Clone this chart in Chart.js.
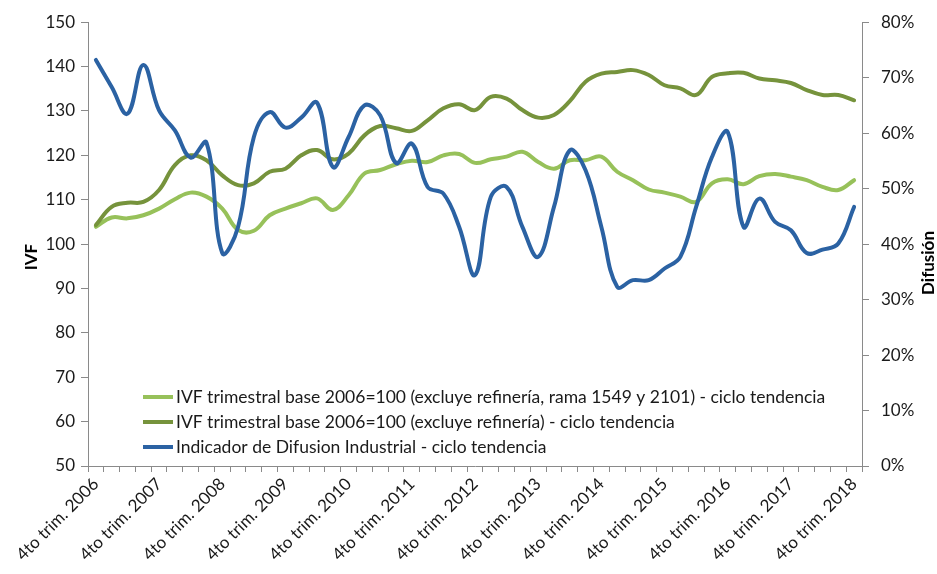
<!DOCTYPE html>
<html>
<head>
<meta charset="utf-8">
<script src="https://cdn.jsdelivr.net/npm/chart.js@4.4.1/dist/chart.umd.min.js"></script>
<style>
  html, body { margin: 0; padding: 0; background: #ffffff; }
  #wrap { width: 937px; height: 574px; position: relative; }
</style>
</head>
<body>
<div id="wrap"><canvas id="c" width="937" height="574"></canvas></div>
<script>
const categories = [
  '4to trim. 2006',
  '1er trim. 2007','2do trim. 2007','3er trim. 2007','4to trim. 2007',
  '1er trim. 2008','2do trim. 2008','3er trim. 2008','4to trim. 2008',
  '1er trim. 2009','2do trim. 2009','3er trim. 2009','4to trim. 2009',
  '1er trim. 2010','2do trim. 2010','3er trim. 2010','4to trim. 2010',
  '1er trim. 2011','2do trim. 2011','3er trim. 2011','4to trim. 2011',
  '1er trim. 2012','2do trim. 2012','3er trim. 2012','4to trim. 2012',
  '1er trim. 2013','2do trim. 2013','3er trim. 2013','4to trim. 2013',
  '1er trim. 2014','2do trim. 2014','3er trim. 2014','4to trim. 2014',
  '1er trim. 2015','2do trim. 2015','3er trim. 2015','4to trim. 2015',
  '1er trim. 2016','2do trim. 2016','3er trim. 2016','4to trim. 2016',
  '1er trim. 2017','2do trim. 2017','3er trim. 2017','4to trim. 2017',
  '1er trim. 2018','2do trim. 2018','3er trim. 2018','4to trim. 2018'
];

const tickLabels = [
  '4to trim. 2006','4to trim. 2007','4to trim. 2008','4to trim. 2009',
  '4to trim. 2010','4to trim. 2011','4to trim. 2012','4to trim. 2013',
  '4to trim. 2014','4to trim. 2015','4to trim. 2016','4to trim. 2017',
  '4to trim. 2018'
];

const ivfSinRamas = [
  103.9, 106.0, 105.8, 106.5, 108.0, 110.1, 111.6, 110.7, 108.0, 103.2,
  103.0, 106.5, 108.0, 109.2, 110.3, 107.7, 111.0, 115.9, 116.7, 118.0,
  118.8, 118.5, 120.0, 120.3, 118.3, 119.1, 119.7, 120.8, 118.5, 117.0,
  118.9, 118.9, 119.7, 116.3, 114.4, 112.3, 111.6, 110.7, 109.5, 113.7,
  114.6, 113.5, 115.3, 115.8, 115.2, 114.4, 112.9, 112.2, 114.4
];

const ivfSinRefineria = [
  104.3, 108.4, 109.3, 109.5, 112.2, 117.8, 120.0, 118.9, 115.5, 113.3,
  113.7, 116.3, 117.0, 120.0, 121.2, 119.1, 120.4, 124.5, 126.6, 126.1,
  125.5, 127.9, 130.6, 131.5, 130.2, 133.2, 132.8, 130.2, 128.5, 129.1,
  132.2, 136.6, 138.4, 138.8, 139.2, 138.1, 135.8, 135.1, 133.6, 137.7,
  138.5, 138.6, 137.3, 136.9, 136.3, 134.7, 133.6, 133.6, 132.4
];

const difusion = [
  73.2, 68.3, 63.5, 72.3, 64.1, 60.5, 55.6, 58.3, 38.4, 43.1,
  59.3, 63.8, 61.0, 62.8, 65.5, 53.9, 59.3, 65.0, 63.2, 54.6,
  58.1, 50.3, 49.1, 43.1, 34.4, 48.5, 50.3, 43.1, 37.7, 46.7,
  56.9, 53.3, 43.1, 32.3, 33.5, 33.5, 35.6, 37.7, 46.7, 55.7,
  60.2, 43.1, 48.2, 44.0, 42.5, 38.4, 39.0, 40.1, 46.7
];

const seriesNames = [
  'IVF trimestral base 2006=100 (excluye refinería, rama 1549 y 2101) - ciclo tendencia',
  'IVF trimestral base 2006=100 (excluye refinería) - ciclo tendencia',
  'Indicador de Difusion Industrial - ciclo tendencia'
];
const seriesColors = ['#97C15A', '#76933C', '#2B62A3'];

const FONT = 'Lato';
const AXIS_COLOR = '#8a8a8a';
const TEXT_COLOR = '#1a1a1a';

const overlay = {
  id: 'overlay',
  afterDraw(chart) {
    const ctx = chart.ctx;
    ctx.save();
    ctx.fillStyle = '#000';
    ctx.font = 'bold 17px ' + FONT;
    ctx.textAlign = 'center';
    ctx.textBaseline = 'middle';
    ctx.save();
    ctx.translate(32, 257);
    ctx.rotate(-Math.PI / 2);
    ctx.fillText('IVF', 0, 0);
    ctx.restore();
    ctx.save();
    ctx.translate(929, 263);
    ctx.rotate(-Math.PI / 2);
    ctx.fillText('Difusión', 0, 0);
    ctx.restore();

    // legend inside plot area
    const rows = [397, 422, 447];
    ctx.font = '17.5px ' + FONT;
    ctx.textAlign = 'left';
    ctx.textBaseline = 'middle';
    rows.forEach((y, i) => {
      ctx.strokeStyle = seriesColors[i];
      ctx.lineWidth = 4;
      ctx.beginPath();
      ctx.moveTo(143, y);
      ctx.lineTo(173, y);
      ctx.stroke();
      ctx.fillStyle = TEXT_COLOR;
      ctx.fillText(seriesNames[i], 176, y);
    });
    ctx.restore();
  }
};

new Chart(document.getElementById('c'), {
  type: 'line',
  data: {
    labels: categories,
    datasets: [
      { label: seriesNames[0], data: ivfSinRamas, yAxisID: 'y', borderColor: seriesColors[0], order: 2 },
      { label: seriesNames[1], data: ivfSinRefineria, yAxisID: 'y', borderColor: seriesColors[1], order: 1 },
      { label: seriesNames[2], data: difusion, yAxisID: 'y2', borderColor: seriesColors[2], order: 0 }
    ]
  },
  options: {
    responsive: false,
    animation: false,
    devicePixelRatio: 1,
    layout: { padding: { top: 22, left: 0, right: 0, bottom: 0 } },
    elements: {
      line: { borderWidth: 4, tension: 0.4, fill: false, borderCapStyle: 'round', borderJoinStyle: 'round' },
      point: { radius: 0, hoverRadius: 0 }
    },
    plugins: {
      legend: { display: false },
      tooltip: { enabled: false },
      title: { display: false }
    },
    scales: {
      x: {
        type: 'category',
        offset: true,
        grid: { display: true, drawOnChartArea: false, drawTicks: true, tickLength: 6, color: AXIS_COLOR, offset: true },
        border: { display: true, color: AXIS_COLOR, width: 1 },
        ticks: {
          autoSkip: false,
          maxRotation: 45,
          minRotation: 45,
          padding: 2,
          color: TEXT_COLOR,
          font: { family: FONT, size: 17 },
          callback(value) {
            const lab = categories[value];
            return tickLabels.includes(lab) ? lab : '';
          }
        },
        afterFit(s) { s.height = 108; }
      },
      y: {
        position: 'left',
        min: 50, max: 150,
        ticks: { stepSize: 10, color: TEXT_COLOR, padding: 6, font: { family: FONT, size: 17 } },
        grid: { display: true, drawOnChartArea: false, drawTicks: true, tickLength: 7, color: AXIS_COLOR },
        border: { display: true, color: AXIS_COLOR, width: 1 },
        afterFit(s) { s.width = 88; }
      },
      y2: {
        position: 'right',
        min: 0, max: 80,
        ticks: {
          stepSize: 10, color: TEXT_COLOR, padding: 12, font: { family: FONT, size: 17 },
          callback(v) { return v + '%'; }
        },
        grid: { display: true, drawOnChartArea: false, drawTicks: true, tickLength: 7, color: AXIS_COLOR },
        border: { display: true, color: AXIS_COLOR, width: 1 },
        afterFit(s) { s.width = 75; }
      }
    }
  },
  plugins: [overlay]
});
</script>
</body>
</html>
